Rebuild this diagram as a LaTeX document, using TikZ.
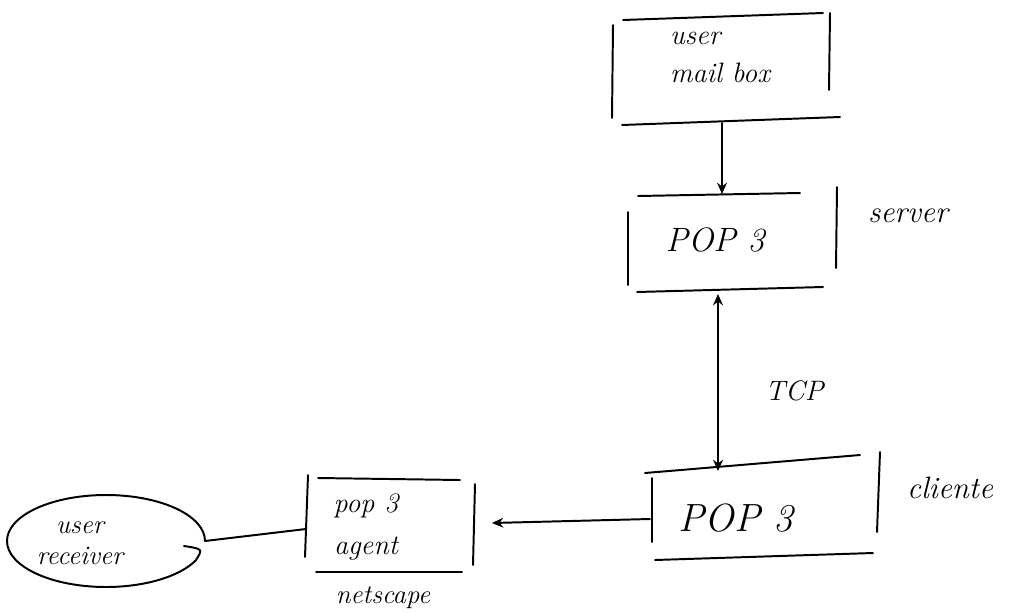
\documentclass[tikz,border=0pt]{standalone}
\usepackage{tikz}
\usetikzlibrary{arrows.meta, positioning, calc}

\begin{document}
\begin{tikzpicture}[x=0.025cm, y=-0.025cm,
  stroke/.style={line width=1.4pt, line cap=round},
  conn/.style={stroke, -{Stealth[length=8pt, width=7pt]}},
  hand/.style={font=\itshape\fontsize{20}{27}\selectfont, align=center, inner sep=0pt}]
  \useasboundingbox (0,0) rectangle (1012,612);

  % user mailbox
  \draw[stroke] (623,20) -- (823,13);
  \draw[stroke] (613,25) -- (612,118);
  \draw[stroke] (830,13) -- (829,90);
  \draw[stroke] (622,125) -- (840,117);
  \node[hand, align=left] (mbx) at (720,57) {user\\mail box};
  \coordinate (mbx-s) at (722,123);

  % pop3 server
  \draw[stroke] (638,196) -- (800,193);
  \draw[stroke] (628,212) -- (628,285);
  \draw[stroke] (837,187) -- (836,268);
  \draw[stroke] (637,292) -- (823,287);
  \node[hand, font=\itshape\fontsize{24}{28}\selectfont] (srv) at (715,240) {POP 3};
  \node[hand, font=\itshape\fontsize{22}{26}\selectfont] (srvlbl) at (908,216) {server};
  \coordinate (srv-n) at (722,194);
  \coordinate (srv-s) at (718,294);

  % pop3 client
  \draw[stroke] (645,473) -- (860,455);
  \draw[stroke] (652,478) -- (652,542);
  \draw[stroke] (880,452) -- (877,532);
  \draw[stroke] (655,560) -- (873,553);
  \node[hand, font=\itshape\fontsize{28}{32}\selectfont] (cli) at (736,518) {POP 3};
  \node[hand, font=\itshape\fontsize{22}{26}\selectfont] (clilbl) at (950,488) {cliente};
  \coordinate (cli-n) at (718,471);
  \coordinate (cli-w) at (650,519);

  % pop3 agent
  \draw[stroke] (318,478) -- (460,480);
  \draw[stroke] (308,475) -- (305,557);
  \draw[stroke] (475,484) -- (473,565);
  \draw[stroke] (316,572) -- (462,572);
  \node[hand, font=\itshape\fontsize{20}{30}\selectfont] (agt) at (366,527) {pop 3\\agent};
  \node[hand, font=\itshape\fontsize{19}{22}\selectfont] (netlbl) at (383,598) {netscape};
  \coordinate (agt-e) at (492,523);
  \coordinate (agt-w) at (306,529);

  % user receiver
  \coordinate (rcv-e) at (205,541);
  \draw[stroke] (rcv-e) arc[start angle=0, end angle=-335, x radius=99, y radius=46]
    .. controls (203,549) .. (184,546);
  \node[hand, font=\itshape\fontsize{19}{22}\selectfont] (rcv) at (80,543) {user\\receiver};

  % connectors
  \draw[conn] (mbx-s) -- (srv-n);
  \draw[stroke, {Stealth[length=8pt, width=7pt]}-{Stealth[length=8pt, width=7pt]}] (srv-s) -- (cli-n)
    node[hand, pos=0.55, right=33pt] (tcplbl) {TCP};
  \draw[conn] (cli-w) -- (agt-e);
  \draw[stroke] (rcv-e) -- (agt-w);
\end{tikzpicture}
\end{document}
